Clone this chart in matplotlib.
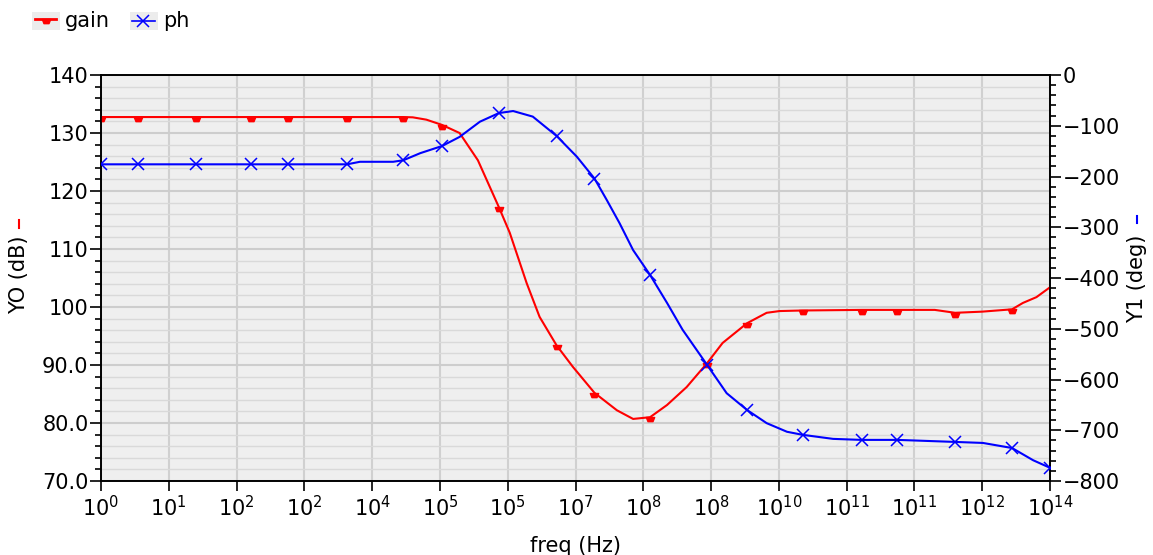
import numpy as np
import matplotlib
matplotlib.use("Agg")
import matplotlib.pyplot as plt
from matplotlib.lines import Line2D
from matplotlib.patches import Rectangle
from matplotlib.path import Path
from matplotlib.ticker import FixedLocator, MultipleLocator, FuncFormatter, NullLocator

# log10(freq) sample points and values
gain_logf = [0.0, 0.55, 1.4, 2.21, 2.76, 3.63, 4.46, 4.6, 4.8, 5.03, 5.29, 5.56, 5.87,
             6.03, 6.28, 6.47, 6.72, 6.96, 7.28, 7.61, 7.85, 8.1, 8.35, 8.64, 8.94,
             9.17, 9.53, 9.82, 10.01, 10.35, 11.22, 11.75, 12.3, 12.6, 13.0, 13.44,
             13.6, 13.8, 14.0]
gain_db = [132.75, 132.75, 132.75, 132.75, 132.75, 132.75, 132.75, 132.7, 132.3, 131.4,
           130.0, 125.3, 117.2, 112.8, 104.1, 98.3, 93.4, 89.7, 85.2, 82.2, 80.7, 81.0,
           83.1, 86.2, 90.3, 93.8, 97.2, 99.0, 99.3, 99.4, 99.5, 99.5, 99.5, 99.0, 99.2,
           99.6, 100.7, 101.7, 103.4]
gain_marks = [0, 1, 2, 3, 4, 5, 6, 9, 12, 16, 18, 21, 24, 26, 29, 30, 31, 33, 35]

ph_logf = [0.0, 0.55, 1.4, 2.21, 2.76, 3.63, 3.82, 4.31, 4.46, 4.71, 5.03, 5.29, 5.59,
           5.87, 6.08, 6.37, 6.72, 7.02, 7.28, 7.46, 7.65, 7.85, 8.1, 8.35, 8.58, 8.94,
           9.23, 9.53, 9.82, 10.12, 10.35, 10.8, 11.22, 11.75, 12.6, 13.01, 13.44, 13.75,
           14.0]
ph_deg = [-176, -176, -176, -176, -176, -176, -171, -171, -168, -154, -140, -122, -92,
          -75, -71, -82, -120, -161, -204, -246, -292, -345, -394, -449, -502, -571,
          -627, -660, -686, -703, -709, -717, -719, -719, -723, -725, -735, -759, -774]
ph_marks = [0, 1, 2, 3, 4, 5, 8, 10, 13, 16, 18, 22, 25, 27, 30, 32, 33, 34, 36, 38]

x_tick_exp = list(range(15))
x_tick_labels = ["0", "1", "2", "2", "4", "5", "5", "7", "8", "8", "10", "11", "11", "12", "14"]
y0_ticks = [70, 80, 90, 100, 110, 120, 130, 140]
y0_labels = ["70.0", "80.0", "90.0", "100", "110", "120", "130", "140"]

RED = "#ff0000"
BLUE = "#0000ff"

# small trapezoid hanging below the data point
gain_marker = Path([(-1.0, 0.0), (1.0, 0.0), (0.6, -1.0), (-0.6, -1.0), (-1.0, 0.0)],
                   [Path.MOVETO, Path.LINETO, Path.LINETO, Path.LINETO, Path.CLOSEPOLY])

W, H = 1153.0, 555.0
fig = plt.figure(figsize=(11.53, 5.55), dpi=100)
ax = fig.add_axes([101 / W, 1 - 481 / H, 949 / W, 406 / H])
ax.set_facecolor("#efefef")

freq_g = np.power(10.0, gain_logf)
freq_p = np.power(10.0, ph_logf)

ax.set_xscale("log")
ax.set_xlim(1, 1e14)
ax.set_ylim(70, 140)

ax.plot(freq_g, gain_db, color=RED, lw=1.5, zorder=3)
ax.plot(freq_g[gain_marks], np.array(gain_db)[gain_marks], ls="none",
        marker=gain_marker, ms=6, color=RED, zorder=4)

ax2 = ax.twinx()
ax2.set_xscale("log")
ax2.set_xlim(1, 1e14)
ax2.set_ylim(-800, 0)
ax2.plot(freq_p, ph_deg, color=BLUE, lw=1.5, zorder=3)
ax2.plot(freq_p[ph_marks], np.array(ph_deg)[ph_marks], ls="none",
         marker="x", ms=8.5, mew=1.1, color=BLUE, zorder=4)

# x axis
ax.xaxis.set_major_locator(FixedLocator([10.0 ** e for e in x_tick_exp]))
ax.xaxis.set_minor_locator(NullLocator())
ax.set_xticklabels([r"$10^{%s}$" % s for s in x_tick_labels])
ax.tick_params(axis="x", which="major", direction="out", length=7, width=1.2,
               labelsize=15, pad=3)
ax.set_xlabel("freq (Hz)", fontsize=15, labelpad=0)
ax.xaxis.set_label_coords(0.5, -0.135)

# left y axis
ax.yaxis.set_major_locator(FixedLocator(y0_ticks))
ax.set_yticklabels(y0_labels)
ax.yaxis.set_minor_locator(MultipleLocator(2))
ax.tick_params(axis="y", which="major", direction="out", length=8, width=1.2,
               labelsize=15, pad=1)
ax.tick_params(axis="y", which="minor", direction="out", length=4, width=1.2)

# right y axis
ax2.yaxis.set_major_locator(MultipleLocator(100))
ax2.yaxis.set_minor_locator(MultipleLocator(20))
ax2.yaxis.set_major_formatter(FuncFormatter(lambda v, p: "0" if v == 0 else "\u2212%d" % abs(v)))
ax2.tick_params(axis="y", which="major", direction="out", length=8, width=1.2,
                labelsize=15, pad=1)
ax2.tick_params(axis="y", which="minor", direction="out", length=4, width=1.2)
ax2.xaxis.set_minor_locator(NullLocator())

for a in (ax, ax2):
    for s in a.spines.values():
        s.set_color("black")
        s.set_linewidth(1.2)

# grid
ax.grid(True, axis="x", which="major", color="#d0d0d0", lw=1.5, zorder=0)
ax.grid(True, axis="y", which="major", color="#cdcdcd", lw=1.5, zorder=0)
ax.grid(True, axis="y", which="minor", color="#d9d9d9", lw=1.0, zorder=0)
ax.set_axisbelow(True)

# axis titles with colour keys
fig.text(19 / W, 1 - 275 / H, "YO (dB)", rotation=90, fontsize=15,
         ha="center", va="center")
fig.add_artist(Line2D([19 / W, 19 / W], [1 - 220 / H, 1 - 228 / H],
                      color=RED, lw=1.5))
fig.text(1137 / W, 1 - 279 / H, "Y1 (deg)", rotation=90, fontsize=15,
         ha="center", va="center")
fig.add_artist(Line2D([1137 / W, 1137 / W], [1 - 216 / H, 1 - 223 / H],
                      color=BLUE, lw=1.5))

# legend
fig.add_artist(Rectangle((32 / W, 1 - 30 / H), 28 / W, 18 / H, color="#ececec", lw=0))
fig.add_artist(Line2D([35 / W, 56 / W], [1 - 19 / H, 1 - 19 / H], color=RED, lw=2))
fig.add_artist(Line2D([46 / W], [1 - 19 / H], marker=gain_marker, ms=6, color=RED))
fig.text(65 / W, 1 - 21 / H, "gain", fontsize=15, va="center", ha="left")
fig.add_artist(Rectangle((130 / W, 1 - 30 / H), 28 / W, 18 / H, color="#ececec", lw=0))
fig.add_artist(Line2D([132 / W, 155 / W], [1 - 21 / H, 1 - 21 / H], color=BLUE, lw=1.2))
fig.add_artist(Line2D([143 / W], [1 - 21 / H], marker="x", ms=8.5, mew=1.1, color=BLUE))
fig.text(163 / W, 1 - 21 / H, "ph", fontsize=15, va="center", ha="left")

fig.savefig("out.png", dpi=100)
